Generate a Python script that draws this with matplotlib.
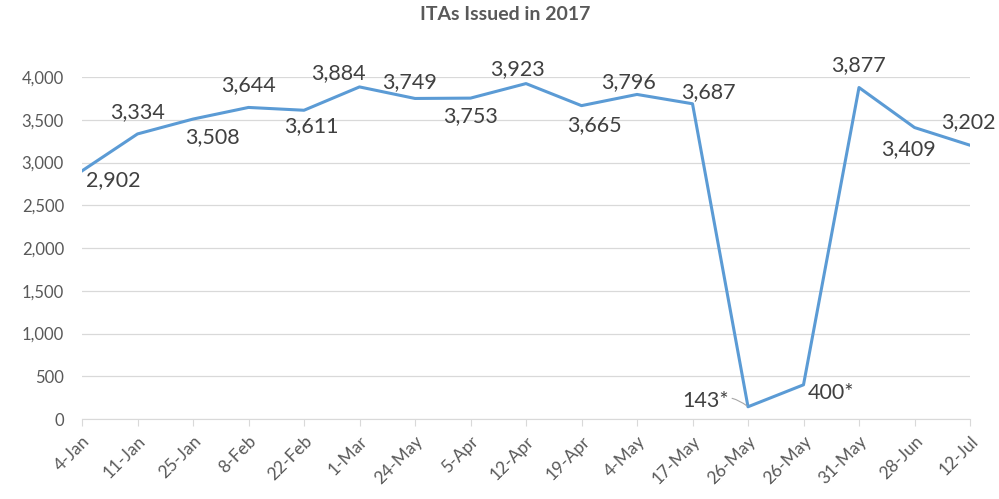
import matplotlib.pyplot as plt
from matplotlib.ticker import FuncFormatter

dates = ['4-Jan', '11-Jan', '25-Jan', '8-Feb', '22-Feb', '1-Mar', '24-May',
         '5-Apr', '12-Apr', '19-Apr', '4-May', '17-May', '26-May', '26-May',
         '31-May', '28-Jun', '12-Jul']
itas = [2902, 3334, 3508, 3644, 3611, 3884, 3749, 3753, 3923, 3665, 3796,
        3687, 143, 400, 3877, 3409, 3202]
labels = ['2,902', '3,334', '3,508', '3,644', '3,611', '3,884', '3,749',
          '3,753', '3,923', '3,665', '3,796', '3,687', '143*', '400*',
          '3,877', '3,409', '3,202']
# label offsets in pixels (dx, dy) from each point
offsets = [(31, -9), (0, 22), (19, -18), (0, 22), (7, -16), (-21, 14),
           (-5, 16), (0, -18), (-9, 14), (13, -19), (-9, 12), (16, 12),
           (-42, 6), (27, -8), (-1, 22), (-6, -22), (-2, 23)]

grey = '#595959'
plt.rcParams['font.family'] = ['Lato', 'DejaVu Sans']

fig = plt.figure(figsize=(9.99, 4.99), dpi=100)
ax = fig.add_axes([82 / 999, 1 - 419 / 499, (970 - 82) / 999, (419 - 77) / 499])

x = list(range(len(dates)))
ax.plot(x, itas, color='#5B9BD5', linewidth=2.2, solid_joinstyle='round')

for i, (v, lab, off) in enumerate(zip(itas, labels, offsets)):
    if i == 12:
        ax.annotate(lab, (i, v), xytext=off, textcoords='offset pixels',
                    ha='center', va='center', fontsize=15.5, color='#404040',
                    arrowprops=dict(arrowstyle='-', color='#A6A6A6', lw=0.8,
                                    shrinkA=15, shrinkB=1,
                                    connectionstyle='arc3,rad=-0.3'))
    else:
        ax.annotate(lab, (i, v), xytext=off, textcoords='offset pixels',
                    ha='center', va='center', fontsize=15.5, color='#404040')

ax.set_xlim(0, len(dates) - 1)
ax.set_ylim(0, 4000)
ax.set_yticks(range(0, 4001, 500))
ax.yaxis.set_major_formatter(FuncFormatter(lambda v, p: f'{int(v):,}'))
ax.set_xticks(x)
ax.set_xticklabels(dates, rotation=45, ha='right', rotation_mode='anchor')

ax.grid(axis='y', color='#D9D9D9', linewidth=0.9)
ax.set_axisbelow(True)
for s in ['top', 'right', 'left']:
    ax.spines[s].set_visible(False)
ax.spines['bottom'].set_color('#D9D9D9')
ax.tick_params(axis='y', length=0, pad=13, labelsize=12, labelcolor=grey)
ax.tick_params(axis='x', length=5, color='#D9D9D9', labelsize=12.5,
               labelcolor=grey, pad=5)

fig.text(505 / 999, 1 - 15 / 499, 'ITAs Issued in 2017', ha='center',
         va='center', fontsize=14, fontweight='bold', color=grey)

fig.savefig('out.png', dpi=100)
